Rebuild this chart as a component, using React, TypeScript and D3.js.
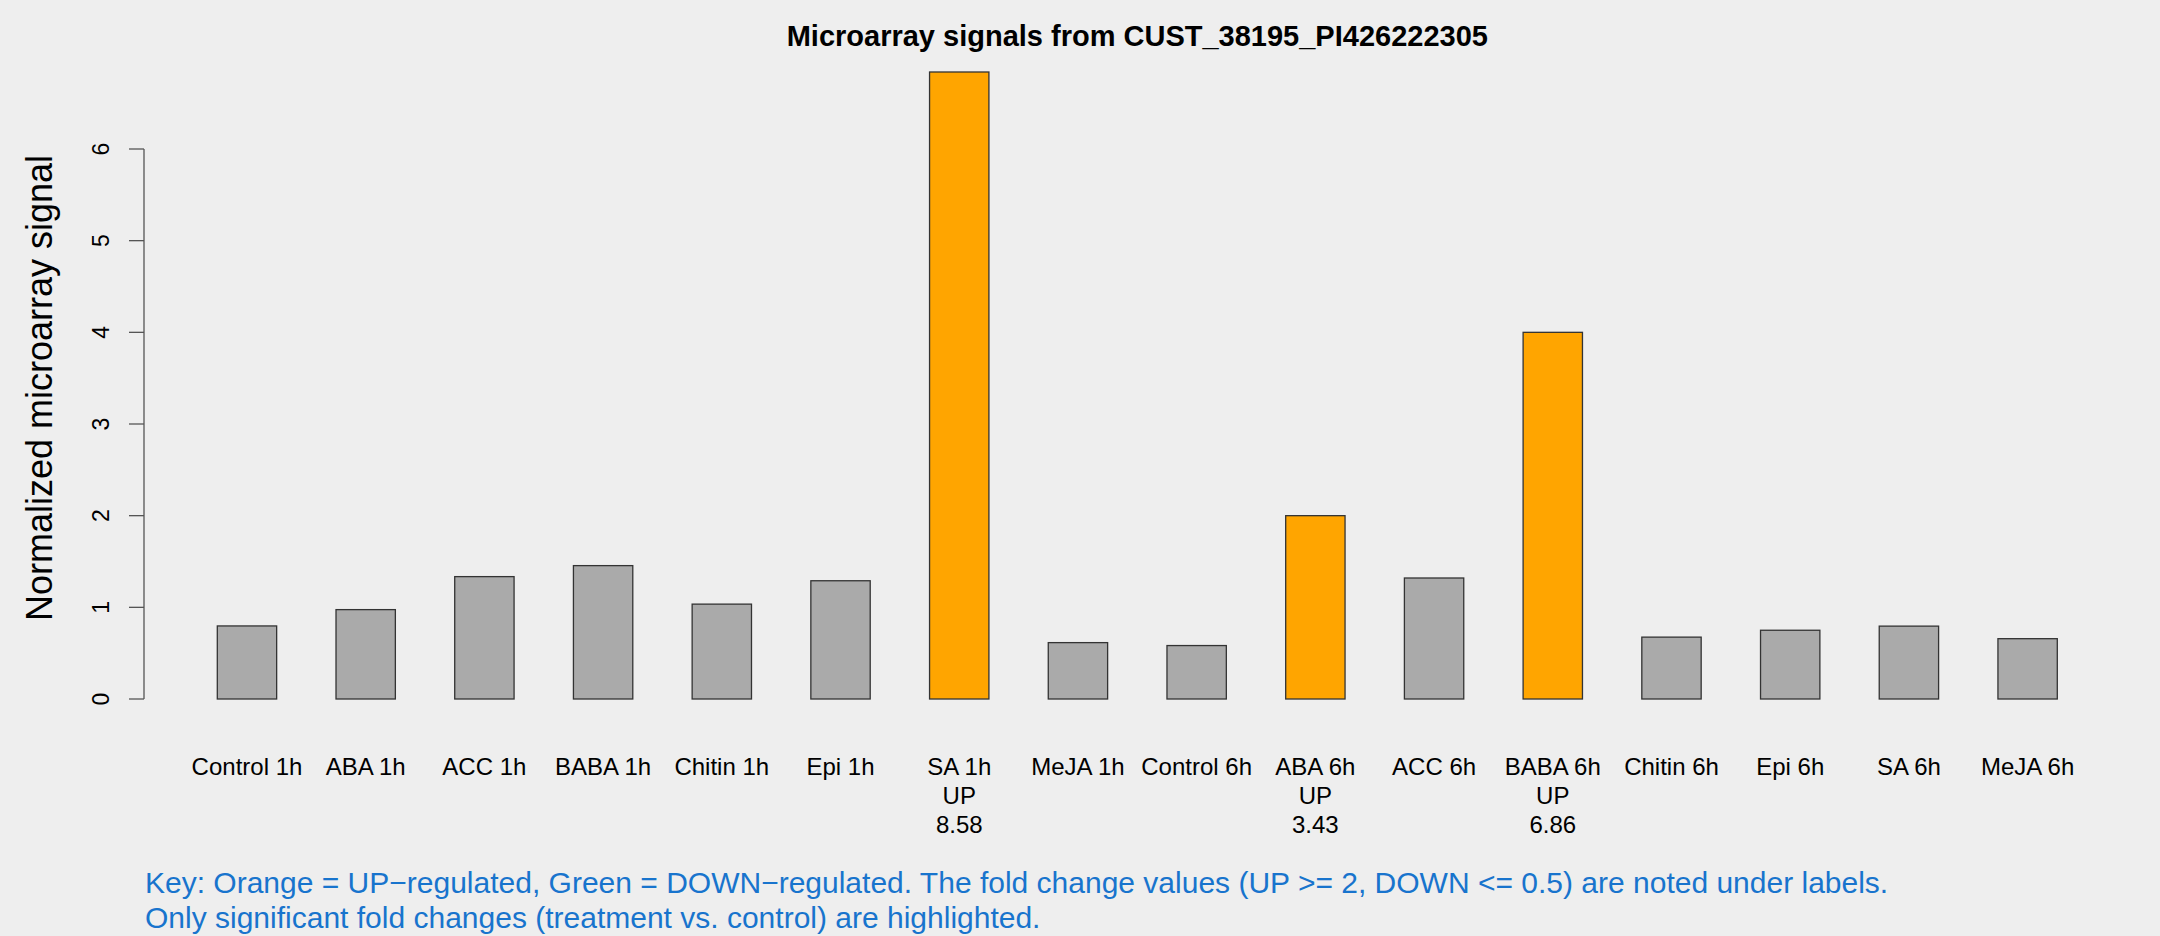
import React from "react";
import * as d3 from "d3";

const categories = [
  "Control 1h", "ABA 1h", "ACC 1h", "BABA 1h", "Chitin 1h", "Epi 1h", "SA 1h", "MeJA 1h",
  "Control 6h", "ABA 6h", "ACC 6h", "BABA 6h", "Chitin 6h", "Epi 6h", "SA 6h", "MeJA 6h",
];
const values = [0.797, 0.975, 1.335, 1.455, 1.035, 1.29, 6.84, 0.615, 0.583, 2.0, 1.32, 4.0, 0.675, 0.75, 0.795, 0.658];
const regulation = ["", "", "", "", "", "", "UP", "", "", "UP", "", "UP", "", "", "", ""];
const foldChanges = ["", "", "", "", "", "", "8.58", "", "", "3.43", "", "6.86", "", "", "", ""];
const yTicks = [0, 1, 2, 3, 4, 5, 6];

const title = "Microarray signals from CUST_38195_PI426222305";
const yLabel = "Normalized microarray signal";
const keyLines = [
  "Key: Orange = UP\u2212regulated, Green = DOWN\u2212regulated. The fold change values (UP >= 2, DOWN <= 0.5) are noted under labels.",
  "Only significant fold changes (treatment vs. control) are highlighted.",
];

const W = 2160;
const H = 936;
const FONT = "'Liberation Sans', Arial, Helvetica, sans-serif";

export default function App() {
  const x = d3.scaleBand<string>().domain(categories).range([217.3, 2057.3]).paddingInner(0.5).paddingOuter(0);
  const y = d3.scaleLinear().domain([0, 6]).range([699, 149]);
  const axisX = 144;
  const colorFor = (r: string) => (r === "UP" ? "#FFA500" : r === "DOWN" ? "#00A000" : "#AAAAAA");
  const cx = (217.3 + 2057.3) / 2;

  return (
    <svg width={W} height={H} style={{ position: "absolute", left: 0, top: 0, display: "block" }} fontFamily={FONT}>
      <rect x={0} y={0} width={W} height={H} fill="#EEEEEE" />
      <text x={cx} y={45.7} textAnchor="middle" fontSize={29} fontWeight="bold" fill="#000">{title}</text>

      {categories.map((c, i) => (
        <rect key={c} x={x(c)} y={y(values[i])} width={x.bandwidth()} height={y(0) - y(values[i])}
          fill={colorFor(regulation[i])} stroke="#333333" strokeWidth={1.3} />
      ))}

      <line x1={axisX} x2={axisX} y1={y(0)} y2={y(6)} stroke="#555" strokeWidth={1.3} />
      {yTicks.map((t) => (
        <g key={t}>
          <line x1={axisX - 15} x2={axisX} y1={y(t)} y2={y(t)} stroke="#555" strokeWidth={1.3} />
          <text transform={`translate(109,${y(t)}) rotate(-90)`} textAnchor="middle" fontSize={23} fill="#000">{t}</text>
        </g>
      ))}
      <text transform={`translate(52.3,388) rotate(-90)`} textAnchor="middle" fontSize={36} fill="#000">{yLabel}</text>

      {categories.map((c, i) => {
        const mx = (x(c) as number) + x.bandwidth() / 2;
        return (
          <g key={"l" + c}>
            <text x={mx} y={775} textAnchor="middle" fontSize={24} fill="#000">{c}</text>
            {regulation[i] && <text x={mx} y={803.5} textAnchor="middle" fontSize={24} fill="#000">{regulation[i]}</text>}
            {foldChanges[i] && <text x={mx} y={832.5} textAnchor="middle" fontSize={24} fill="#000">{foldChanges[i]}</text>}
          </g>
        );
      })}

      {keyLines.map((l, i) => (
        <text key={i} x={145} y={893.3 + i * 35} fontSize={30} fill="#1874CD">{l}</text>
      ))}
    </svg>
  );
}
